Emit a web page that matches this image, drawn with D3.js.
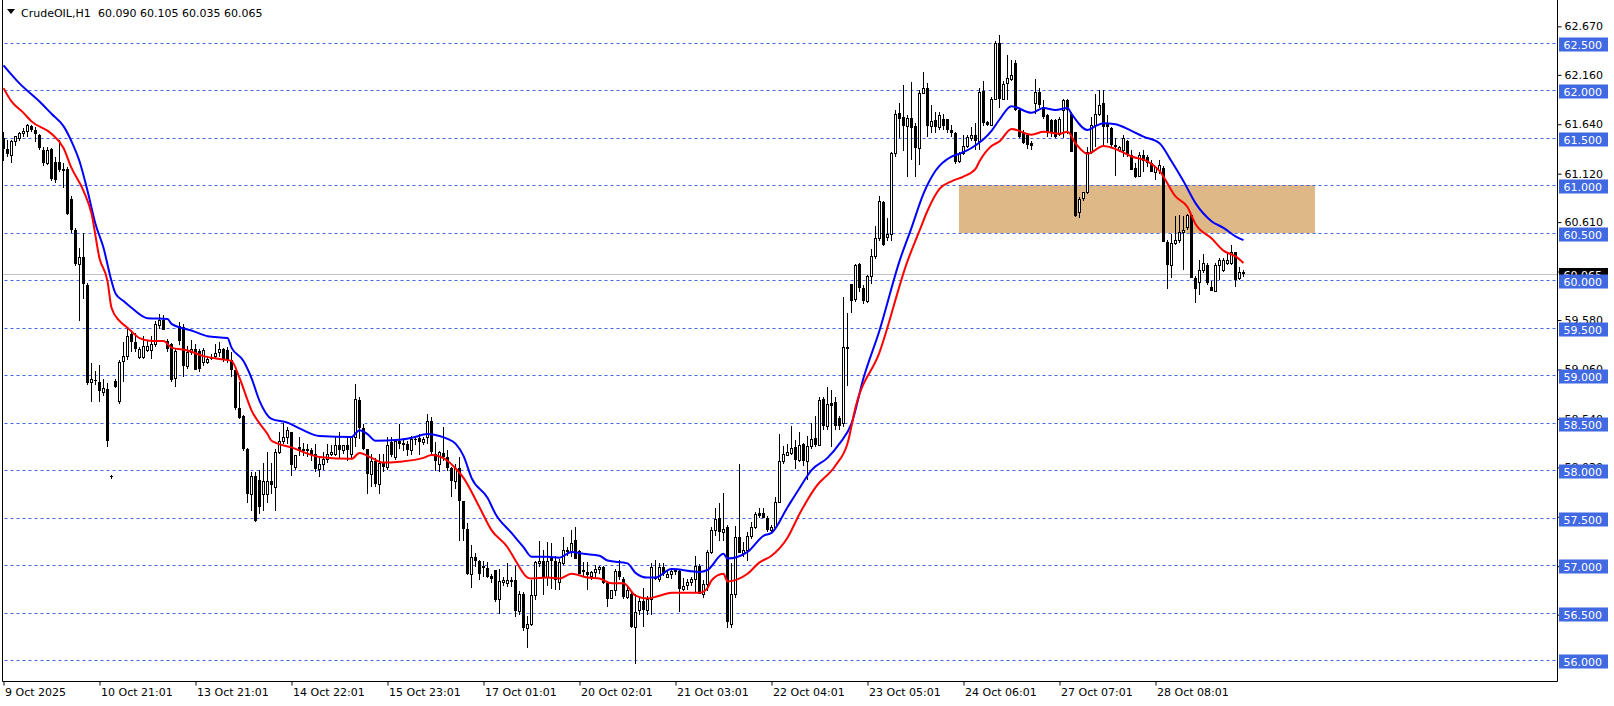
<!DOCTYPE html>
<html><head><meta charset="utf-8">
<script src="https://cdn.jsdelivr.net/npm/d3@7"></script>
<style>
html,body{margin:0;padding:0;background:#fff;overflow:hidden}
svg{display:block;font-family:"DejaVu Sans",sans-serif}
</style></head>
<body>
<svg id="c" width="1614" height="706"></svg>
<script>
// ---------- DATA ----------
const symbolTitle = "CrudeOIL,H1";
const lastQuote = ["60.090","60.105","60.035","60.065"];
const currentPrice = 60.065;

const opens = [
61.49,61.38,61.32,61.46,61.50,61.55,61.57,61.62,61.58,61.53,
61.37,61.23,61.38,61.24,61.24,61.16,61.17,60.85,60.53,60.17,
60.24,59.95,58.93,58.95,58.93,58.82,58.85,57.94,58.94,58.73,
59.15,59.20,59.43,59.35,59.19,59.19,59.26,59.26,59.33,59.53,
59.58,59.36,59.33,58.97,59.52,59.51,59.10,59.24,59.28,59.25,
59.14,59.14,59.18,59.20,59.24,59.27,59.26,59.16,59.05,58.65,
58.57,58.22,57.75,57.94,57.90,57.75,57.75,57.89,57.82,58.19,
58.31,58.35,58.40,58.03,58.24,58.21,58.22,58.21,58.17,58.01,
58.07,58.12,58.17,58.17,58.26,58.21,58.26,58.17,58.35,58.74,
58.44,58.22,57.96,58.10,57.86,58.08,58.03,58.30,58.14,58.31,
58.28,58.28,58.21,58.33,58.34,58.30,58.35,58.52,58.17,58.07,
58.18,58.14,58.02,57.89,58.02,57.68,57.38,56.91,57.09,57.05,
56.99,56.97,56.89,56.95,56.64,56.82,56.81,56.84,56.84,56.52,
56.70,56.34,56.38,56.69,57.02,57.04,56.88,57.09,57.05,56.82,
57.02,57.16,57.14,57.27,57.15,56.95,56.93,56.89,56.93,56.96,
56.98,56.81,56.66,56.74,56.94,56.86,56.67,56.70,56.35,56.53,
56.62,56.53,56.65,56.88,56.86,56.98,56.88,56.91,56.94,56.94,
56.75,56.79,56.82,56.86,56.99,56.70,56.80,57.14,57.37,57.50,
57.35,57.40,56.38,56.70,57.30,57.13,57.16,57.31,57.40,57.55,
57.55,57.50,57.37,57.40,57.67,58.10,58.16,58.18,58.24,58.11,
58.28,58.10,58.25,58.34,58.27,58.75,58.47,58.71,58.72,58.55,
58.50,59.29,59.96,59.80,60.17,59.92,59.78,60.04,60.25,60.44,
60.82,60.45,60.48,61.34,61.76,61.72,61.62,61.71,61.62,61.39,
61.97,62.02,61.62,61.68,61.61,61.70,61.69,61.58,61.55,61.25,
61.34,61.41,61.50,61.53,61.46,61.99,61.66,61.63,61.91,62.50,
61.91,62.07,62.12,62.28,61.79,61.56,61.53,61.44,61.86,61.98,
61.82,61.74,61.68,61.68,61.54,61.79,61.89,61.75,61.56,60.72,
60.86,60.93,61.35,61.63,61.75,61.86,61.65,61.60,61.42,61.37,
61.37,61.46,61.32,61.18,61.10,61.32,61.30,61.23,61.14,61.16,
61.18,60.40,60.16,60.39,60.42,60.51,60.56,60.68,60.02,59.98,
60.11,60.16,59.93,59.89,60.16,60.11,60.18,60.18,60.30,60.02,
60.090];
const highs = [
61.56,61.47,61.47,61.52,61.56,61.60,61.64,61.63,61.61,61.54,
61.40,61.40,61.39,61.30,61.47,61.23,61.19,60.88,60.55,60.34,
60.50,59.97,59.13,59.04,59.11,58.96,58.92,57.95,58.96,59.16,
59.35,59.49,59.48,59.44,59.30,59.41,59.36,59.41,59.57,59.64,
59.63,59.38,59.34,59.29,59.56,59.54,59.31,59.37,59.33,59.28,
59.29,59.20,59.22,59.33,59.35,59.29,59.30,59.24,59.05,58.93,
58.58,58.23,57.98,57.98,58.00,58.08,58.19,58.08,58.22,58.40,
58.50,58.45,58.40,58.16,58.35,58.29,58.28,58.23,58.28,58.14,
58.19,58.28,58.26,58.35,58.40,58.27,58.35,58.35,58.91,58.77,
58.49,58.22,58.17,58.13,58.17,58.17,58.35,58.35,58.33,58.49,
58.33,58.31,58.36,58.36,58.38,58.35,58.59,58.56,58.30,58.20,
58.45,58.21,58.03,58.07,58.14,57.68,57.44,57.21,57.13,57.06,
57.05,57.03,56.91,56.95,56.96,56.88,57.02,56.88,56.99,56.73,
56.72,56.47,56.84,57.05,57.26,57.16,57.24,57.23,57.10,57.07,
57.30,57.19,57.37,57.40,57.16,57.03,57.03,56.94,57.00,56.99,
56.99,56.82,56.74,56.96,57.06,56.88,56.78,56.73,56.70,56.67,
56.76,56.68,57.02,57.06,57.02,57.02,56.94,56.96,56.96,56.96,
56.87,56.86,56.88,57.10,57.01,56.85,57.16,57.40,57.60,57.65,
57.76,57.42,57.02,57.41,58.07,57.24,57.35,57.45,57.56,57.60,
57.60,57.52,57.42,57.72,58.38,58.25,58.28,58.46,58.32,58.40,
58.29,58.36,58.50,58.57,58.77,58.77,58.88,58.84,58.77,58.57,
59.82,59.65,59.96,60.17,60.18,59.95,60.05,60.33,60.57,60.88,
60.83,60.65,61.35,61.79,61.86,62.05,61.74,62.08,61.65,62.00,
62.19,62.07,61.84,61.77,61.77,61.75,61.69,61.63,61.56,61.35,
61.53,61.53,61.61,61.65,62.02,62.10,61.67,61.93,62.52,62.58,
62.09,62.37,62.32,62.32,61.80,61.58,61.55,61.46,62.12,62.02,
61.89,61.75,61.70,61.70,61.72,61.91,61.91,61.77,61.56,60.87,
60.93,61.40,61.72,61.96,62.00,62.00,61.74,61.61,61.49,61.41,
61.53,61.47,61.37,61.23,61.35,61.37,61.32,61.26,61.19,61.26,
61.20,60.42,60.49,60.67,60.69,60.67,60.70,60.70,60.04,60.21,
60.28,60.18,59.99,60.18,60.23,60.23,60.27,60.37,60.30,60.14,
60.105];
const lows = [
61.25,61.30,61.23,61.41,61.46,61.51,61.51,61.56,61.45,61.37,
61.20,61.21,61.04,61.02,61.14,60.97,60.69,60.50,60.15,59.57,
59.80,58.90,58.72,58.90,58.72,58.78,58.24,57.91,58.86,58.70,
58.93,59.16,59.24,59.24,59.17,59.17,59.24,59.17,59.30,59.49,
59.47,59.24,58.93,58.88,59.32,58.98,59.07,59.21,59.05,59.03,
59.10,59.12,59.16,59.17,59.19,59.14,59.13,58.98,58.63,58.54,
58.20,57.65,57.57,57.45,57.54,57.57,57.65,57.75,57.57,58.17,
58.28,58.28,57.94,58.00,58.15,58.15,58.14,58.10,57.98,57.93,
58.00,58.08,58.15,58.15,58.12,58.17,58.10,58.13,58.24,58.33,
58.21,57.75,57.82,57.82,57.75,57.98,58.00,58.14,58.11,58.22,
58.20,58.15,58.16,58.27,58.16,58.27,58.28,58.16,57.99,57.98,
58.10,57.99,57.72,57.80,57.26,57.26,56.90,56.76,56.98,56.85,
56.88,56.87,56.81,56.61,56.49,56.78,56.77,56.77,56.46,56.48,
56.31,56.13,56.36,56.63,56.98,56.69,56.78,56.75,56.74,56.74,
57.00,57.10,57.09,57.07,56.91,56.89,56.74,56.85,56.86,56.91,
56.80,56.56,56.64,56.68,56.84,56.64,56.65,56.34,55.96,56.48,
56.35,56.48,56.48,56.84,56.82,56.89,56.87,56.86,56.90,56.51,
56.73,56.74,56.78,56.72,56.70,56.66,56.73,57.12,57.31,57.26,
57.26,56.34,56.34,56.66,57.13,57.09,57.04,57.28,57.38,57.50,
57.50,57.35,57.34,57.38,57.66,58.07,58.15,58.16,58.01,58.09,
58.04,57.90,58.22,58.24,58.26,58.42,58.42,58.24,58.42,58.42,
58.45,58.89,59.65,59.77,59.87,59.75,59.76,59.96,60.22,60.41,
60.36,60.41,60.41,61.30,61.49,61.36,61.09,61.26,61.09,61.21,
61.96,61.51,61.55,61.55,61.58,61.58,61.55,61.51,61.22,61.23,
61.32,61.39,61.46,61.37,61.37,61.62,61.62,61.62,61.89,61.81,
61.90,61.90,62.10,61.78,61.49,61.43,61.38,61.37,61.75,61.81,
61.70,61.51,61.51,61.49,61.52,61.49,61.54,61.35,60.66,60.65,
60.83,60.91,61.33,61.40,61.73,61.40,61.44,61.40,61.10,61.35,
61.30,61.30,61.16,61.07,61.08,61.14,61.19,61.14,61.05,61.12,
60.40,59.91,60.02,60.37,60.39,60.11,60.53,60.02,59.76,59.84,
60.07,59.95,59.89,59.88,60.00,60.09,60.16,60.16,59.93,60.00,
60.035];
const closes = [
61.38,61.33,61.46,61.52,61.55,61.57,61.63,61.58,61.54,61.39,
61.23,61.37,61.06,61.05,61.16,61.17,60.70,60.53,60.17,60.24,
59.96,58.92,58.96,58.94,58.83,58.86,58.31,57.93,58.88,59.14,
59.20,59.41,59.35,59.28,59.28,59.31,59.31,59.33,59.54,59.58,
59.47,59.28,58.95,59.25,59.36,59.10,59.24,59.27,59.05,59.06,
59.26,59.17,59.19,59.23,59.28,59.16,59.16,59.05,58.65,58.55,
58.22,57.75,57.94,57.47,57.61,57.89,57.89,57.84,58.19,58.31,
58.35,58.42,58.05,58.16,58.21,58.22,58.20,58.16,58.01,58.07,
58.12,58.17,58.19,58.26,58.21,58.26,58.21,58.35,58.75,58.44,
58.22,57.96,58.10,57.86,58.08,58.03,58.27,58.16,58.31,58.28,
58.29,58.21,58.33,58.32,58.30,58.33,58.52,58.19,58.10,58.19,
58.14,58.02,57.89,58.02,57.68,57.38,56.91,57.09,57.04,56.91,
56.97,56.88,56.86,56.63,56.83,56.84,56.84,56.82,56.52,56.70,
56.34,56.38,56.69,57.03,57.04,56.88,57.05,57.05,56.84,57.03,
57.16,57.14,57.23,57.07,56.91,56.93,56.90,56.93,56.96,56.98,
56.81,56.65,56.74,56.94,56.88,56.67,56.74,56.35,56.51,56.62,
56.53,56.65,56.98,56.86,56.98,56.91,56.91,56.94,56.95,56.75,
56.78,56.82,56.86,56.99,56.70,56.80,57.14,57.37,57.49,57.35,
57.38,56.40,56.70,57.30,57.13,57.16,57.31,57.40,57.54,57.52,
57.50,57.37,57.40,57.67,58.10,58.17,58.19,58.23,58.11,58.27,
58.10,58.25,58.33,58.27,58.74,58.46,58.70,58.68,58.47,58.47,
59.30,59.30,59.78,60.16,59.92,59.78,60.04,60.25,60.44,60.83,
60.37,60.48,61.34,61.75,61.70,61.62,61.71,61.60,61.39,61.97,
62.02,61.62,61.67,61.61,61.74,61.62,61.58,61.55,61.24,61.34,
61.41,61.51,61.53,61.46,61.98,61.65,61.63,61.91,62.50,61.91,
62.06,62.13,62.16,61.79,61.51,61.44,61.42,61.41,61.98,61.84,
61.72,61.56,61.56,61.51,61.70,61.89,61.79,61.35,60.67,60.85,
60.93,61.35,61.63,61.75,61.84,61.61,61.61,61.42,61.40,61.40,
61.49,61.32,61.16,61.09,61.32,61.25,61.23,61.14,61.19,61.21,
60.40,60.16,60.39,60.42,60.51,60.53,60.68,60.02,59.91,60.11,
60.18,59.97,59.89,60.16,60.21,60.21,60.21,60.30,60.00,60.09,
60.065];

// moving averages (bar index, value)
const blueMaBars = [0,4,9,12,15,17,19,21,23,25,27,28,30,32,36,41,42,47,51,56,57,60,62,64,67,71,74,79,87,89,91,93,99,102,106,109,111,113,115,117,121,123,127,130,132,136,139,142,145,149,151,156,158,161,163,167,174,176,180,181,186,190,192,196,199,202,206,209,212,215,219,224,227,230,233,237,239,242,247,249,252,257,260,263,266,267,271,273,275,278,282,285,289,292,295,298,302,305,308,310];
const blueMaVals = [62.26,62.07,61.88,61.75,61.62,61.46,61.25,60.94,60.59,60.34,59.99,59.86,59.78,59.71,59.60,59.59,59.54,59.47,59.41,59.39,59.29,59.15,58.97,58.73,58.54,58.50,58.44,58.36,58.35,58.42,58.38,58.31,58.32,58.34,58.38,58.36,58.33,58.28,58.15,57.92,57.71,57.54,57.34,57.19,57.09,57.09,57.08,57.14,57.12,57.10,57.05,57.02,56.92,56.87,56.87,56.96,56.93,56.95,57.12,57.07,57.14,57.31,57.34,57.61,57.81,58.00,58.13,58.28,58.49,58.97,59.47,60.20,60.55,60.91,61.15,61.30,61.33,61.39,61.57,61.69,61.83,61.76,61.81,61.79,61.81,61.75,61.58,61.62,61.65,61.64,61.57,61.51,61.44,61.25,61.04,60.81,60.62,60.55,60.46,60.42];
const redMaBars = [0,2,5,7,12,15,17,20,22,24,26,27,29,31,34,37,40,42,46,50,54,57,59,62,66,67,72,79,87,89,92,95,99,105,107,111,113,115,119,122,126,128,131,132,136,139,142,146,149,152,155,158,161,164,167,174,176,177,180,181,186,189,192,196,199,203,208,211,213,219,226,229,231,234,237,240,243,244,247,249,252,257,260,264,266,268,271,275,278,282,286,289,293,296,298,302,305,308,310];
const redMaVals = [62.02,61.88,61.76,61.67,61.54,61.39,61.18,60.94,60.70,60.23,59.99,59.71,59.57,59.50,59.39,59.36,59.36,59.29,59.26,59.20,59.17,59.15,58.97,58.63,58.38,58.31,58.24,58.14,58.12,58.18,58.13,58.08,58.09,58.13,58.16,58.10,58.02,57.92,57.61,57.37,57.19,57.05,56.87,56.86,56.87,56.86,56.91,56.87,56.86,56.81,56.81,56.68,56.65,56.68,56.71,56.71,56.76,56.84,56.91,56.83,56.91,57.03,57.10,57.29,57.54,57.82,58.05,58.28,58.66,59.24,60.20,60.52,60.73,60.96,61.04,61.09,61.17,61.25,61.41,61.46,61.59,61.53,61.56,61.54,61.56,61.44,61.33,61.41,61.38,61.30,61.25,61.15,60.88,60.77,60.59,60.44,60.31,60.25,60.18];

// horizontal level lines and the supply/demand zone
const levelLines = [56.0,56.5,57.0,57.5,58.0,58.5,59.0,59.5,60.0,60.5,61.0,61.5,62.0,62.5];
const zone = {fromBar: 238.875, toBar: 327.75, top: 61.0, bottom: 60.5};

// axis ticks
const priceTicks = [62.670,62.160,61.640,61.120,60.610,60.090,59.580,59.060,58.540,58.030,57.510,56.990,56.480];
const timeTickBars = [0,24,48,72,96,120,144,168,192,216,240,264,288];
const timeTickLabels = ["9 Oct 2025","10 Oct 21:01","13 Oct 21:01","14 Oct 22:01","15 Oct 23:01","17 Oct 01:01","20 Oct 02:01","21 Oct 03:01","22 Oct 04:01","23 Oct 05:01","24 Oct 06:01","27 Oct 07:01","28 Oct 08:01"];

// ---------- DRAW ----------
const svg = d3.select("#c");
const plotL = 2.5, plotR = 1557.5, plotB = 681.5;
const x = d3.scaleLinear().domain([0, 388.5]).range([3.5, 1557.5]);
const y = d3.scaleLinear().domain([56, 62.5]).range([660.3, 42.5]);
const blue = "#4169E1";

svg.append("defs").append("clipPath").attr("id","plot")
  .append("rect").attr("x",plotL).attr("y",0).attr("width",plotR-plotL).attr("height",plotB);

const g = svg.append("g").attr("clip-path","url(#plot)");

// zone rectangle
g.append("rect")
  .attr("x", Math.round(x(zone.fromBar)))
  .attr("y", Math.round(y(zone.top)))
  .attr("width", Math.round(x(zone.toBar)) - Math.round(x(zone.fromBar)))
  .attr("height", Math.round(y(zone.bottom)) - Math.round(y(zone.top)))
  .attr("fill", "#DEB887");

// level lines
g.selectAll("line.lvl").data(levelLines).enter().append("line")
  .attr("x1", plotL+2).attr("x2", plotR)
  .attr("y1", d => Math.round(y(d))+0.5).attr("y2", d => Math.round(y(d))+0.5)
  .attr("stroke", blue).attr("stroke-width",1).attr("stroke-dasharray","3,3");

// current price line
g.append("line").attr("x1", plotL).attr("x2", plotR)
  .attr("y1", Math.round(y(currentPrice))+0.5).attr("y2", Math.round(y(currentPrice))+0.5)
  .attr("stroke","#C0C0C0").attr("stroke-width",1);

// candles
const bars = d3.range(closes.length).map(i => ({i, o:opens[i], h:highs[i], l:lows[i], c:closes[i]}));
const cg = g.append("g");
bars.forEach(b => {
  const cx = x(b.i);
  const yh = Math.round(y(b.h)), yl = Math.round(y(b.l));
  cg.append("line").attr("x1",cx).attr("x2",cx).attr("y1",yh).attr("y2",Math.max(yl,yh+1))
    .attr("stroke","#000").attr("stroke-width",1);
  const yo = Math.round(y(b.o)), yc = Math.round(y(b.c));
  const top = Math.min(yo,yc), bot = Math.max(yo,yc);
  if (b.c < b.o) {
    cg.append("rect").attr("x",cx-1.5).attr("y",top).attr("width",3).attr("height",Math.max(1,bot-top))
      .attr("fill","#000");
  } else if (bot - top < 1) {
    cg.append("line").attr("x1",cx-1.5).attr("x2",cx+1.5).attr("y1",top+0.5).attr("y2",top+0.5)
      .attr("stroke","#000").attr("stroke-width",1);
  } else {
    cg.append("rect").attr("x",cx-1).attr("y",top+0.5).attr("width",2).attr("height",bot-top)
      .attr("fill","#fff").attr("stroke","#000").attr("stroke-width",1);
  }
});

// moving averages
const line = d3.line().x(d => x(d[0])).y(d => y(d[1])).curve(d3.curveMonotoneX);
g.append("path").datum(blueMaBars.map((b,k)=>[b, blueMaVals[k]]))
  .attr("d", line).attr("fill","none").attr("stroke","#0000FF").attr("stroke-width",2);
g.append("path").datum(redMaBars.map((b,k)=>[b, redMaVals[k]]))
  .attr("d", line).attr("fill","none").attr("stroke","#FF0000").attr("stroke-width",2);

// frame
svg.append("line").attr("x1",plotL).attr("x2",plotL).attr("y1",0).attr("y2",plotB).attr("stroke","#000");
svg.append("line").attr("x1",plotR).attr("x2",plotR).attr("y1",0).attr("y2",plotB).attr("stroke","#000");
svg.append("line").attr("x1",plotL).attr("x2",plotR).attr("y1",plotB).attr("y2",plotB).attr("stroke","#000");

// title
svg.append("path").attr("d","M7,9 L15,9 L11,14 Z").attr("fill","#000");
svg.append("text").attr("x",21).attr("y",17).attr("font-size",11).attr("fill","#000")
  .text(symbolTitle);
svg.append("text").attr("x",98).attr("y",17).attr("font-size",11).attr("fill","#000")
  .text(lastQuote.join(" "));

// x axis
const xAxis = d3.axisBottom(x).tickValues(timeTickBars)
  .tickFormat((d,i) => timeTickLabels[i]).tickSize(4).tickPadding(3);
const xg = svg.append("g").attr("transform",`translate(0,${plotB})`).call(xAxis);
xg.select(".domain").remove();
xg.selectAll(".tick line").attr("stroke","#000");
xg.selectAll(".tick text").attr("text-anchor","start").attr("dx","1")
  .attr("font-size",11).attr("font-family","DejaVu Sans").attr("fill","#000");

// y axis (price ticks)
const yAxis = d3.axisRight(y).tickValues(priceTicks).tickFormat(d3.format(".3f")).tickSize(4).tickPadding(3);
const yg = svg.append("g").attr("transform",`translate(${plotR},0)`).call(yAxis);
yg.select(".domain").remove();
yg.selectAll(".tick line").attr("stroke","#000");
yg.selectAll(".tick text").attr("font-size",11).attr("font-family","DejaVu Sans").attr("fill","#000");

// current price label (black)
const cpY = Math.round(y(currentPrice));
svg.append("rect").attr("x",plotR+1.5).attr("y",cpY-6).attr("width",49).attr("height",14).attr("fill","#000");
svg.append("text").attr("x",plotR+6).attr("y",cpY+5).attr("font-size",11).attr("fill","#fff")
  .text(currentPrice.toFixed(3));

// level labels (blue)
const lg = svg.append("g");
levelLines.forEach(v => {
  const ly = Math.round(y(v));
  lg.append("rect").attr("x",plotR+1.5).attr("y",ly-5.5).attr("width",49).attr("height",14).attr("fill",blue);
  lg.append("text").attr("x",plotR+6).attr("y",ly+5.5).attr("font-size",11).attr("fill","#fff")
    .text(v.toFixed(3));
});
</script>
</body></html>
